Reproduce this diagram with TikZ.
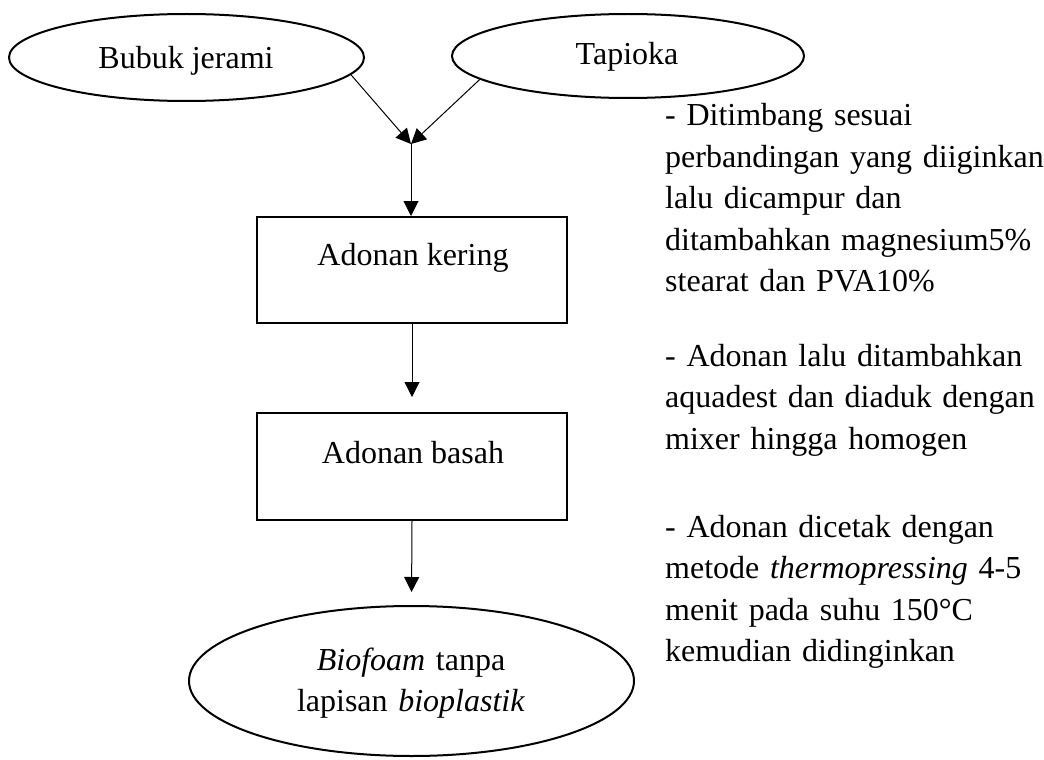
\documentclass[tikz,border=0pt]{standalone}
\usepackage{fontspec}
\setmainfont{Liberation Serif}
\usetikzlibrary{shapes.geometric,arrows.meta}
\tikzset{
  shapeline/.style={draw, line width=2pt, inner sep=0pt},
  oval/.style={shapeline, ellipse},
  stepbox/.style={shapeline, rectangle},
  lbl/.style={inner sep=0pt, anchor=base, font=\fontsize{32}{41.5}\selectfont},
  note/.style={inner sep=0pt, anchor=base west, text width=380pt, align=left, font=\fontsize{32}{41.5}\selectfont},
  conn/.style={line width=1pt, -{Triangle[length=15pt,width=15pt]}}
}
\begin{document}
\begin{tikzpicture}[x=1pt,y=-1pt]
\useasboundingbox (0,0) rectangle (1044,760);
% shapes
\node[oval, minimum width=355pt, minimum height=87pt] (b) at (186.5,57.5) {};
\node[oval, minimum width=352pt, minimum height=84pt] (t) at (628,56) {};
\node[stepbox, minimum width=310pt, minimum height=106pt] (k1) at (412,270) {};
\node[stepbox, minimum width=310pt, minimum height=107pt] (k2) at (412,466.5) {};
\node[oval, minimum width=445pt, minimum height=150pt] (f) at (411.5,681) {};
% texts
\node[lbl] (bt) at (186,68) {Bubuk jerami};
\node[lbl] (tt) at (627,65) {Tapioka};
\node[lbl] (k1t) at (413,265) {Adonan kering};
\node[lbl] (k2t) at (413,463) {Adonan basah};
\node[lbl, text width=420pt, align=center] (ft) at (411,670) {\textit{Biofoam} tanpa\\lapisan \textit{bioplastik}};
\node[note] (n1) at (665,125.5) {- Ditimbang sesuai\\perbandingan yang diiginkan\\lalu dicampur dan\\ditambahkan magnesium5\%\\stearat dan PVA10\%};
\node[note] (n2) at (665,366) {- Adonan lalu ditambahkan\\aquadest dan diaduk dengan\\mixer hingga homogen};
\node[note] (n3) at (665,537) {- Adonan dicetak dengan\\metode \textit{thermopressing} 4-5\\menit pada suhu 150°C\\kemudian didinginkan};
% connectors
\coordinate (j) at (411,144);
\draw[conn] (b.-6.8) -- (j);
\draw[conn] (t.-171.2) -- (j);
\draw[conn] (j) -- (j |- k1.north);
\draw[conn, shorten >=15pt] (k1.south) -- (k2.north);
\draw[conn, shorten >=13pt] (k2.south) -- (f.north);
\end{tikzpicture}
\end{document}
